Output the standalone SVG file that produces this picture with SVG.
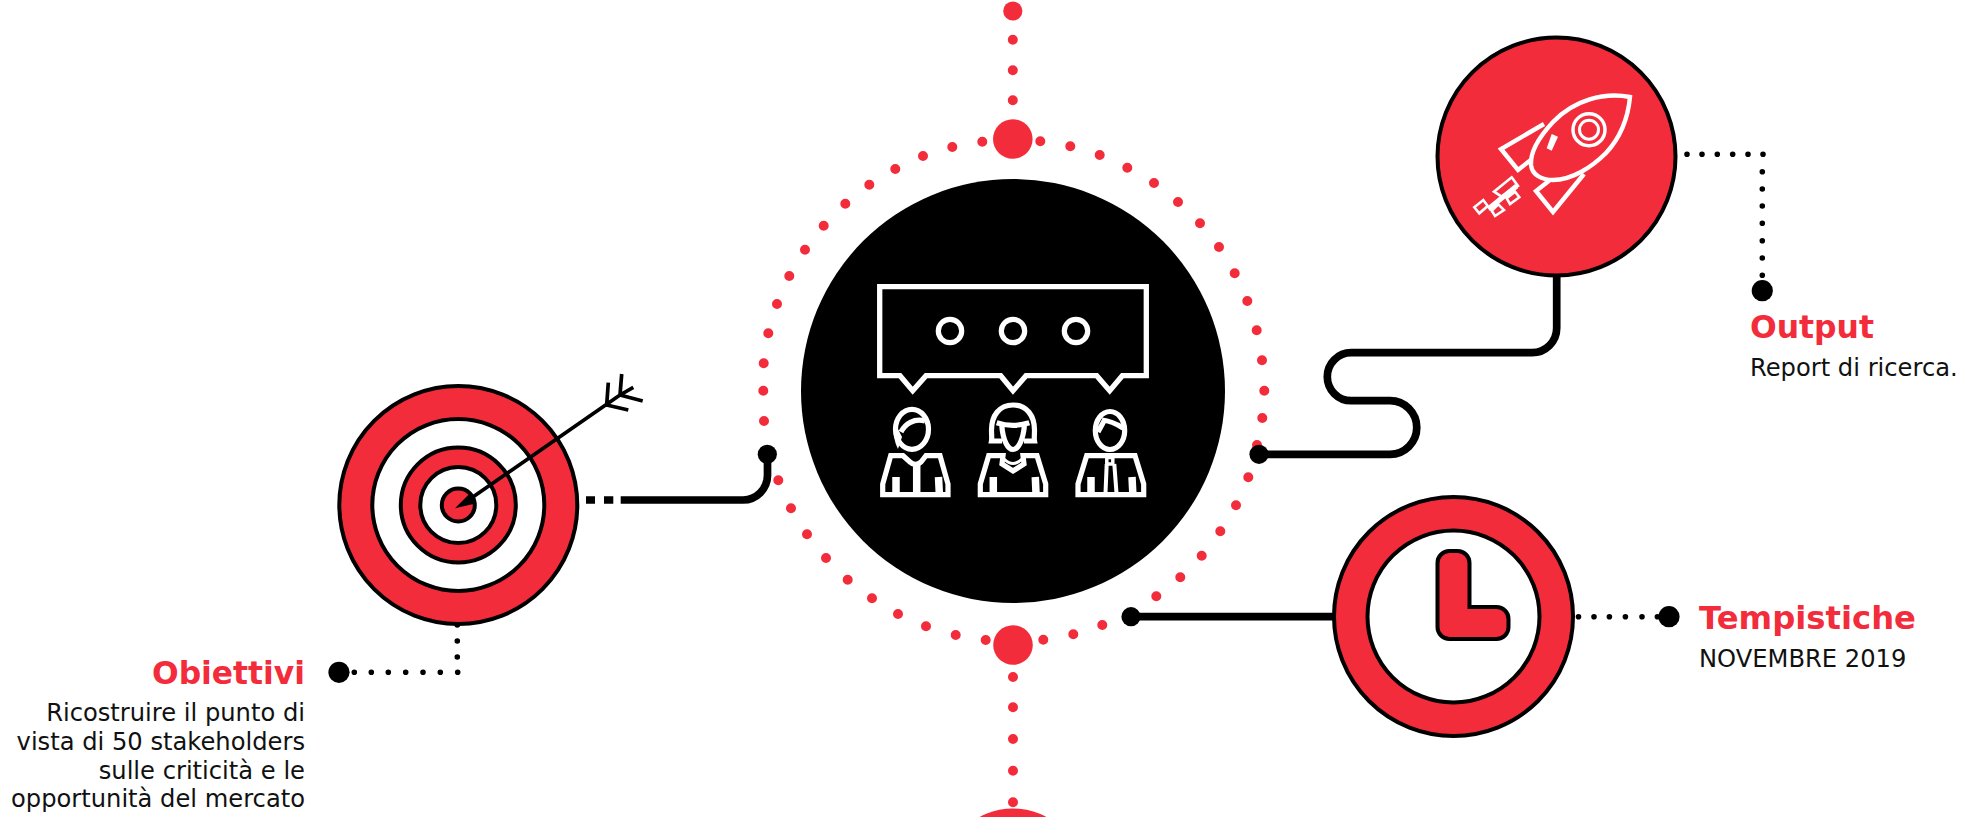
<svg xmlns="http://www.w3.org/2000/svg" width="1961" height="817" viewBox="0 0 1961 817">
<style>
.t{font-family:"DejaVu Sans","Liberation Sans",sans-serif;font-size:24.2px;fill:#111}
.h{font-family:"DejaVu Sans","Liberation Sans",sans-serif;font-size:32.5px;font-weight:700;fill:#f32c3b}
.r{fill:#f32c3b;stroke:#000;stroke-width:4}
.w{fill:#fff;stroke:#000;stroke-width:4}
.rdots{fill:none;stroke:#f32c3b;stroke-width:10;stroke-linecap:round}
.kdots{fill:none;stroke:#000;stroke-width:5.6;stroke-linecap:round}
.wire{fill:none;stroke:#000;stroke-width:7.7}
.ic{fill:none;stroke:#fff;stroke-width:5.2}
.bar{fill:none;stroke:#fff;stroke-width:7.5}
.rk{fill:none;stroke:#fff;stroke-width:4.4}
.k{fill:#000}
.rd{fill:#f32c3b}
</style>
<g id="ring">
<path class="rdots" d="M1040.3 141.3h0M1070.3 146.3h0M1099.7 155h0M1127.3 167.7h0M1154 183h0M1178 202h0M1200 223.3h0M1219 247h0M1234.7 273.3h0M1247.3 301h0M1256.7 330.3h0M1262 360.3h0M1264.3 390.7h0M1262.3 418h0M1257 445h0M1248.3 477.3h0M1236 505.3h0M1220.3 531.3h0M1201.7 555.7h0M1180.3 577.3h0M1156.3 596.3h0M1130.7 613h0M1102.3 625h0M1073.3 634.3h0M1043.3 639.7h0M985.7 640h0M955.7 635h0M926 626.3h0M898 614h0M872 598.3h0M847.7 579.7h0M826 558h0M807 534.3h0M791 508.3h0M778.3 480.3h0M767 452h0M764 421h0M763.3 390.7h0M763.7 363.3h0M768.3 333.3h0M777 304h0M789.3 276h0M805 249.7h0M823.7 225.7h0M845.3 203.7h0M869.3 184.7h0M895.3 169h0M923 156h0M952.3 147h0M982.3 141.7h0"/>
<path class="rdots" d="M1012.8 39.7h0M1012.8 70.3h0M1012.8 100.3h0M1013 677h0M1013 707.3h0M1013 739h0M1013 770.7h0M1013 802.3h0"/>
<circle class="rd" cx="1012.8" cy="11" r="9.6"/>
<circle class="rd" cx="1012.8" cy="139" r="19.8"/>
<circle class="rd" cx="1013" cy="645" r="19.8"/>
<circle class="rd" cx="1013" cy="878.5" r="70"/>
</g>
<g id="connectors">
<path class="wire" d="M620.7 500H743A24.7 24.7 0 0 0 767.5 475.3V455"/>
<path class="wire" d="M586 500H595M604 500H613.3"/>
<circle class="k" cx="767.3" cy="454.3" r="9.6"/>
<path class="wire" d="M1556.7 270V328A24.7 24.7 0 0 1 1532 352.7H1351.3A24 24 0 0 0 1351.3 400.7H1390A26.8 26.8 0 0 1 1390 454.3H1259"/>
<circle class="k" cx="1259" cy="454.3" r="9.6"/>
<path class="wire" d="M1131 616.7H1340"/>
<circle class="k" cx="1131" cy="616.7" r="9.6"/>
<path class="kdots" d="M457.3 625h0M457.3 641h0M457.3 657h0M457.7 672.3h0M440.3 672.3h0M423 672.3h0M405.7 672.3h0M388.3 672.3h0M371.3 672.3h0M354.3 672.3h0"/>
<circle class="k" cx="339" cy="672.3" r="10.6"/>
<path class="kdots" d="M1578.5 616.7h0M1594 616.7h0M1609.4 616.7h0M1625.4 616.7h0M1642 616.7h0M1657.4 616.7h0"/>
<circle class="k" cx="1669" cy="616.7" r="10.6"/>
<path class="kdots" d="M1687 154.3h0M1702 154.3h0M1717.3 154.3h0M1732.7 154.3h0M1748 154.3h0M1763 154.3h0M1762.3 171.7h0M1762.3 189h0M1762.3 206h0M1762.3 223.3h0M1762.3 240.7h0M1762.3 258h0M1762.3 275.3h0"/>
<circle class="k" cx="1762.3" cy="290.7" r="10.6"/>
</g>
<g id="center-node">
<circle class="k" cx="1013" cy="391" r="212"/>
<path class="ic" style="stroke-width:5.3" d="M879.7 286.7H1146.3V375.7H1122.3L1109.7 390.7L1096.7 375.7H1026L1013 390.7L1000.7 375.7H926L912.7 390.7L900 375.7H879.7Z"/>
<circle class="ic" cx="950" cy="331" r="11.7"/>
<circle class="ic" cx="1013" cy="331" r="11.7"/>
<circle class="ic" cx="1076" cy="331" r="11.7"/>
<g id="person-1">
<ellipse class="ic" cx="912" cy="429.3" rx="16.5" ry="20"/>
<path class="ic" d="M925 421C914 418 905 424 901 432"/>
<path d="M896 425C893 434 894 441 898 449L902 437Z" fill="#fff"/>
<path class="ic" d="M882.7 494.7V484L890.7 455.7H903L910 462Q915.5 467 921 462L926 455.7H940L948 484V494.7Z"/>
<path class="bar" d="M916.7 464V493M896 477V493M938.5 477L939.3 493"/>
</g>
<g id="person-2">
<path class="ic" d="M1013 405C999 405 991.5 416 991.5 430C991.5 435 992 438 991.5 441H1002M1013 405C1027 405 1034.5 416 1034.5 430C1034.5 435 1034 438 1034.5 441H1024"/>
<path class="ic" d="M996.7 422.7Q1013 428 1029.3 422.7M1001.7 425C1003 441 1008 449.5 1013 449.5C1018 449.5 1023 441 1024.5 425"/>
<path class="ic" d="M980.3 494.7V484L988.7 455.7H1003L1002 464L1013 471L1024 464L1023 455.7H1037L1045.7 484V494.7Z"/>
<path class="ic" style="stroke-width:3" d="M1004 459Q1013 468 1022 459"/>
<path class="bar" d="M993.3 477V493M1035.3 477L1036 493"/>
</g>
<g id="person-3">
<ellipse class="ic" cx="1110" cy="430.5" rx="14.7" ry="19"/>
<path class="ic" d="M1102 420Q1112 421 1123 428M1104 421L1098 432"/>
<path class="ic" d="M1078 494.7V484L1086.7 455.7H1135L1143.7 484V494.7Z"/>
<path class="ic" style="stroke-width:4" d="M1106.7 464L1105.5 493M1114.3 464L1116.5 493"/>
<rect x="1106.8" y="457.5" width="6" height="6.5" fill="none" stroke="#fff" stroke-width="3.5"/>
<path class="bar" d="M1091 477V493M1132 477L1132.8 493"/>
</g>
</g>
<g id="target-node">
<circle class="r" cx="458.3" cy="505" r="119"/>
<circle class="w" cx="458.3" cy="505" r="86"/>
<circle class="r" cx="458.3" cy="505" r="57.5"/>
<circle class="w" cx="458.3" cy="505" r="38"/>
<circle class="r" cx="458.3" cy="505" r="16.5"/>
<path d="M455 508.3L476.7 503.3L470 493.3Z" class="k"/>
<path d="M470 499L620 395M606.7 405L608.3 382.7M606.7 405L628.3 410M620 395L621.7 374M620 395L642.7 401M620 395L633.3 387.3" fill="none" stroke="#000" stroke-width="3.7"/>
</g>
<g id="rocket-node">
<circle class="r" cx="1556.5" cy="156.5" r="119"/>
<path class="rk" d="M1630 97C1604 92 1574 100 1553 122C1540 136 1530 152 1531 165C1532 175 1542 180 1553 180C1572 180 1592 167 1606 153C1620 138 1628 118 1630 97Z"/>
<circle class="rk" style="stroke-width:3.5" cx="1589" cy="129.7" r="16"/>
<circle class="rk" style="stroke-width:3" cx="1589" cy="129.7" r="9.5"/>
<path d="M1551.7 134L1558 136.7L1551.7 150.7L1546.7 148.3Z" fill="#fff"/>
<path class="rk" d="M1544 124L1501 149L1518 170L1532 159M1584 174L1553 212L1536 191L1550 180"/>
<path class="rk" style="stroke-width:2.6" d="M1511.7 177.3L1518 186L1501.7 196.7L1494 191.7ZM1506.7 198.3L1515 191.7L1519.3 197.3L1510 204ZM1498.3 204.3L1504 210L1495 216L1491.7 210.7ZM1474.3 207.3L1483.3 200L1487.7 206L1479.3 213.3Z"/>
<path class="rk" style="stroke-width:5" d="M1488.3 209L1516.7 186"/>
</g>
<g id="clock-node">
<circle class="r" cx="1453.5" cy="616.5" r="119.5"/>
<circle class="w" cx="1453.5" cy="616.5" r="86"/>
<path class="r" transform="translate(-1.5 0)" d="M1439 563A12 12 0 0 1 1451 551H1459A12 12 0 0 1 1471 563V607H1498A12 12 0 0 1 1510 619V627A12 12 0 0 1 1498 639H1451A12 12 0 0 1 1439 627Z"/>
</g>
<g id="label-obiettivi">
<text class="h" x="305" y="684" text-anchor="end" textLength="153" lengthAdjust="spacingAndGlyphs">Obiettivi</text>
<text class="t" x="305" y="721" text-anchor="end">Ricostruire il punto di</text>
<text class="t" x="305" y="749.7" text-anchor="end">vista di 50 stakeholders</text>
<text class="t" x="305" y="778.7" text-anchor="end">sulle criticità e le</text>
<text class="t" x="305" y="807.3" text-anchor="end">opportunità del mercato</text>
</g>
<g id="label-output">
<text class="h" x="1750" y="338.3" textLength="124" lengthAdjust="spacingAndGlyphs">Output</text>
<text class="t" x="1750" y="375.7">Report di ricerca.</text>
</g>
<g id="label-tempistiche">
<text class="h" x="1699" y="629" textLength="217" lengthAdjust="spacingAndGlyphs">Tempistiche</text>
<text class="t" x="1699" y="666.7">NOVEMBRE 2019</text>
</g>
</svg>
